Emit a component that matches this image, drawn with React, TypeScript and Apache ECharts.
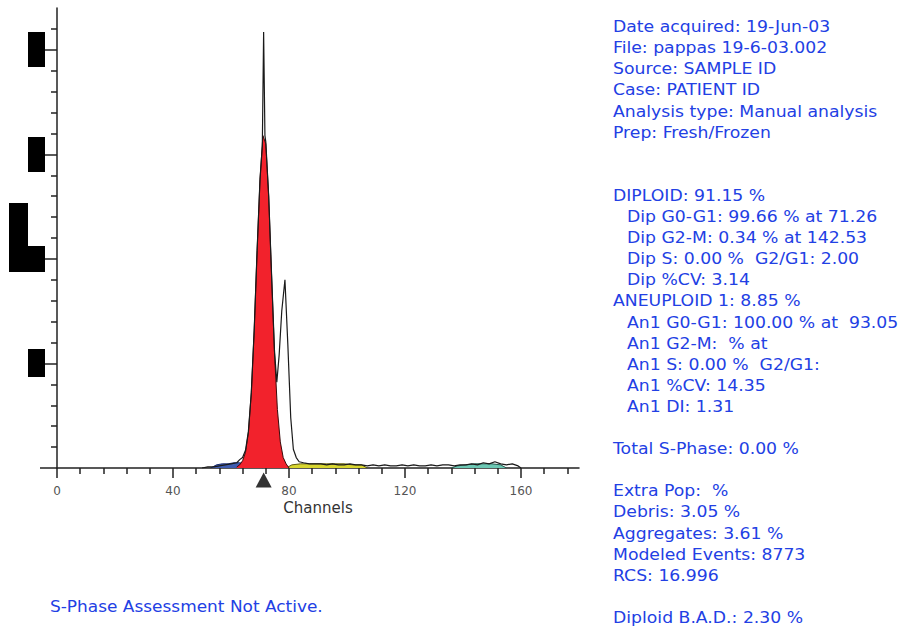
import React, { useEffect, useRef } from 'react';
import * as echarts from 'echarts';

// ---- axis ticks ----
const xTickValues = [0, 40, 80, 120, 160];
const xMinorTickValues = [8, 16, 24, 32, 48, 56, 64, 72, 88, 96, 104, 112, 128, 136, 144, 152, 168, 176];
const yTickValues = [100, 200, 300, 400];
const yMinorTickValues = [20, 40, 60, 80, 120, 140, 160, 180, 220, 240, 260, 280, 320, 340, 360, 380, 420];

// ---- measured histogram (black outline) ----
const histChannels = [
  50, 52, 54, 56, 58, 60, 62,
  63, 64, 65, 66, 67, 68, 69, 70,
  70.8, 71.25, 71.7, 72,
  73, 74, 75,
  75.8, 76.6, 77.5, 78.6, 79.6, 80.6, 81.5, 82.5, 83.5,
  85,
  87, 89, 91, 93, 95, 97, 99, 101, 103, 105,
  107, 109, 111, 113, 115, 117, 119, 121, 123, 125,
  127, 129, 131, 133, 135, 137, 139, 141, 143, 145,
  147, 149, 151, 153, 155, 157, 159,
  160,
];
const histCounts = [
  0, 1, 1, 2, 3, 4, 5,
  8, 10, 17, 35, 72, 132, 208, 276,
  308, 417, 318, 312,
  260, 184, 112,
  82, 108, 150, 180, 118, 48, 18, 10, 6,
  5,
  4, 4, 4, 3, 4, 3, 3, 4, 3, 3,
  2, 3, 2, 3, 2, 2, 3, 2, 3, 2,
  2, 3, 2, 3, 3, 2, 3, 3, 4, 3,
  5, 4, 6, 4, 3, 4, 2,
  0,
];

// ---- model components ----
const dipG1Channels = [62, 63, 64, 65, 66, 67, 68, 69, 70, 71, 72, 73, 74, 75, 76, 77, 78, 79, 80];
const dipG1Counts = [1, 3, 7, 15, 34, 72, 132, 208, 276, 318, 310, 260, 184, 110, 56, 25, 10, 4, 0];

const debrisChannels = [53, 55, 57, 59, 61, 63, 65, 67, 69, 71];
const debrisCounts = [0, 3, 4, 4, 5, 5, 4, 3, 2, 0];

const an1G1Channels = [79, 81, 84, 87, 90, 93, 96, 99, 102, 105, 107];
const an1G1Counts = [0, 3, 4, 4, 4, 4, 4, 4, 3, 3, 0];

const dipG2Channels = [136, 138, 141, 144, 147, 150, 153, 155];
const dipG2Counts = [0, 2, 3, 4, 4, 4, 3, 0];

const peakMarkerChannel = 71.26;

// ---- report text ----
const reportLines: { text: string; indent: boolean }[] = [
  { text: 'Date acquired: 19-Jun-03', indent: false },
  { text: 'File: pappas 19-6-03.002', indent: false },
  { text: 'Source: SAMPLE ID', indent: false },
  { text: 'Case: PATIENT ID', indent: false },
  { text: 'Analysis type: Manual analysis', indent: false },
  { text: 'Prep: Fresh/Frozen', indent: false },
  { text: '', indent: false },
  { text: '', indent: false },
  { text: 'DIPLOID: 91.15 %', indent: false },
  { text: 'Dip G0-G1: 99.66 % at 71.26', indent: true },
  { text: 'Dip G2-M: 0.34 % at 142.53', indent: true },
  { text: 'Dip S: 0.00 %  G2/G1: 2.00', indent: true },
  { text: 'Dip %CV: 3.14', indent: true },
  { text: 'ANEUPLOID 1: 8.85 %', indent: false },
  { text: 'An1 G0-G1: 100.00 % at  93.05', indent: true },
  { text: 'An1 G2-M:  % at', indent: true },
  { text: 'An1 S: 0.00 %  G2/G1:', indent: true },
  { text: 'An1 %CV: 14.35', indent: true },
  { text: 'An1 DI: 1.31', indent: true },
  { text: '', indent: false },
  { text: 'Total S-Phase: 0.00 %', indent: false },
  { text: '', indent: false },
  { text: 'Extra Pop:  %', indent: false },
  { text: 'Debris: 3.05 %', indent: false },
  { text: 'Aggregates: 3.61 %', indent: false },
  { text: 'Modeled Events: 8773', indent: false },
  { text: 'RCS: 16.996', indent: false },
  { text: '', indent: false },
  { text: 'Diploid B.A.D.: 2.30 %', indent: false },
];
const footnote = 'S-Phase Assessment Not Active.';
const xAxisTitle = 'Channels';

const zip = (xs: number[], ys: number[]) => xs.map((x, i) => [x, ys[i]]);

const BLUE = '#2240e4';
const FONT = '"DejaVu Sans", Verdana, sans-serif';
const TEXT_SIZE = 15;
const TEXT_SCALE = 1.15;

export default function App() {
  const ref = useRef<HTMLDivElement>(null);
  useEffect(() => {
    if (!ref.current) return;
    const chart = echarts.init(ref.current, null, { renderer: 'svg' });

    const textEls: any[] = [];
    reportLines.forEach((l, i) => {
      if (!l.text) return;
      textEls.push({
        type: 'text',
        x: l.indent ? 627 : 613,
        y: 27 + i * 21.1,
        scaleX: TEXT_SCALE,
        style: {
          text: l.text,
          fill: BLUE,
          fontSize: TEXT_SIZE,
          fontFamily: FONT,
          align: 'left',
          verticalAlign: 'middle',
        },
      });
    });
    textEls.push({
      type: 'text',
      x: 50,
      y: 607,
      scaleX: 1.13,
      style: { text: footnote, fill: BLUE, fontSize: TEXT_SIZE, fontFamily: FONT, align: 'left', verticalAlign: 'middle' },
    });
    textEls.push({
      type: 'text',
      x: 318,
      y: 508,
      style: { text: xAxisTitle, fill: '#333', fontSize: 15, fontFamily: FONT, align: 'center', verticalAlign: 'middle' },
    });

    const blocks = [
      { x: 28, y: 32, w: 17, h: 35 },
      { x: 28, y: 137, w: 17, h: 35 },
      { x: 9, y: 203, w: 19, h: 69 },
      { x: 27, y: 246, w: 18, h: 26 },
      { x: 28, y: 349, w: 17, h: 28 },
    ].map((b) => ({
      type: 'rect',
      shape: { x: b.x, y: b.y, width: b.w, height: b.h },
      style: { fill: '#000' },
    }));

    const areaSeries = (name: string, xs: number[], ys: number[], fill: string, edge: string, z: number) => ({
      name,
      type: 'line',
      data: zip(xs, ys),
      showSymbol: false,
      symbol: 'none',
      lineStyle: { color: edge, width: 1 },
      areaStyle: { color: fill, opacity: 1 },
      z,
    });

    chart.setOption({
      animation: false,
      backgroundColor: '#fff',
      grid: { left: 57, top: 8, width: 522, height: 460 },
      xAxis: [
        {
          type: 'value',
          min: 0,
          max: 180,
          axisLine: { show: true, onZero: false, lineStyle: { color: '#222', width: 1.5 } },
          axisTick: { show: true, customValues: xTickValues, length: 10, lineStyle: { color: '#222', width: 1.5 } },
          axisLabel: { customValues: xTickValues, color: '#555', fontSize: 12, fontFamily: FONT, margin: 17 },
          splitLine: { show: false },
        },
        {
          type: 'value',
          min: 0,
          max: 180,
          position: 'bottom',
          axisLine: { show: false, onZero: false },
          axisTick: { show: true, customValues: xMinorTickValues, length: 6, lineStyle: { color: '#222', width: 1.5 } },
          axisLabel: { show: false },
          splitLine: { show: false },
        },
      ],
      yAxis: [
        {
          type: 'value',
          min: 0,
          max: 440,
          axisLine: { show: true, onZero: false, lineStyle: { color: '#222', width: 1.5 } },
          axisTick: { show: true, customValues: yTickValues, length: 12, lineStyle: { color: '#222', width: 1.5 } },
          axisLabel: { show: false },
          splitLine: { show: false },
        },
        {
          type: 'value',
          min: 0,
          max: 440,
          position: 'left',
          axisLine: { show: false, onZero: false },
          axisTick: { show: true, customValues: yMinorTickValues, length: 6, lineStyle: { color: '#222', width: 1.5 } },
          axisLabel: { show: false },
          splitLine: { show: false },
        },
      ],
      series: [
        areaSeries('Debris', debrisChannels, debrisCounts, '#3e5cb0', '#1d2f70', 2),
        areaSeries('An1 G0-G1', an1G1Channels, an1G1Counts, '#d8d630', '#5e5a10', 2),
        areaSeries('Dip G2-M', dipG2Channels, dipG2Counts, '#6cc8b4', '#24574c', 2),
        areaSeries('Dip G0-G1', dipG1Channels, dipG1Counts, '#f2222c', '#3a0a0a', 3),
        {
          name: 'Histogram',
          type: 'line',
          data: zip(histChannels, histCounts),
          showSymbol: false,
          symbol: 'none',
          lineStyle: { color: '#1a1a1a', width: 1.2 },
          z: 4,
        },
        {
          name: 'Marker',
          type: 'scatter',
          data: [[peakMarkerChannel, 0]],
          symbol: 'triangle',
          symbolSize: [16, 15],
          symbolOffset: [0, 12],
          itemStyle: { color: '#000' },
          clip: false,
          z: 5,
        },
      ],
      graphic: [
        { type: 'line', shape: { x1: 40, y1: 468, x2: 57, y2: 468 }, style: { stroke: '#222', lineWidth: 1.5 } },
        ...blocks,
        ...textEls,
      ],
    });
    return () => chart.dispose();
  }, []);
  return <div ref={ref} style={{ position: 'absolute', left: 0, top: 0, width: 908, height: 636 }} />;
}
